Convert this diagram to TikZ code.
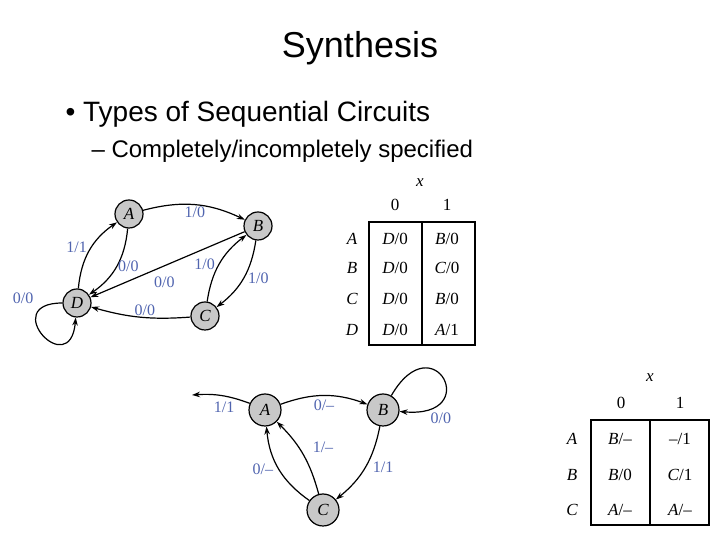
\documentclass[tikz,border=0pt]{standalone}
\usepackage{fontspec}
\setmainfont{Liberation Serif}
\setsansfont{Liberation Sans}
\usepackage{tikz}
\usetikzlibrary{arrows.meta, positioning}
\definecolor{lblue}{RGB}{80,100,175}
\definecolor{stategray}{RGB}{200,200,200}

\begin{document}
\begin{tikzpicture}[
  x=1pt, y=1pt,
  state/.style={circle, draw, line width=1.2pt, fill=stategray, minimum size=28pt, inner sep=0pt, font=\fontsize{17}{17}\selectfont\itshape},
  lbl/.style={text=lblue, font=\fontsize{16}{16}\selectfont, inner sep=1pt},
  cell/.style={font=\fontsize{17}{17}\selectfont},
  rowlbl/.style={font=\fontsize{17}{17}\selectfont\itshape},
  tab/.style={rectangle, draw, line width=1.6pt},
  arrow/.style={-{Stealth[length=8pt, width=5.5pt]}, line width=1.2pt},
]
\useasboundingbox (0,0) rectangle (720,540);

% Title and bullets
\node[font=\sffamily\fontsize{36}{36}\selectfont, anchor=base] (title) at (360,482) {Synthesis};
\node[font=\sffamily\fontsize{28}{28}\selectfont, anchor=base west] (bullet) at (62,418) {• Types of Sequential Circuits};
\node[font=\sffamily\fontsize{24}{24}\selectfont, anchor=base west] (sub) at (88,382) {– Completely/incompletely specified};

% Completely specified machine
\node[state] (A) at (129,326) {A};
\node[state] (B) at (258,314) {B};
\node[state] (C) at (205,224) {C};
\node[state] (D) at (77,237) {D};

\draw[arrow] (A) to[bend left=20] node[lbl, below] {1/0} (B);
\draw[arrow] (D) to[bend left=25] node[lbl, pos=0.55, left=3pt] {1/1} (A);
\draw[arrow] (A) to[bend left=25] node[lbl, right] {0/0} (D);
\draw[arrow] (B) -- node[lbl, pos=0.52, below=9pt] {0/0} (D);
\draw[arrow] (C) to[bend left=22] node[lbl, left=3pt] {1/0} (B);
\draw[arrow] (B) to[bend left=22] node[lbl, right=3pt] {1/0} (C);
\draw[arrow] (C) to[bend left=10] node[lbl, pos=0.45, above] {0/0} (D);
\draw[arrow] (D) to[out=180, in=265, min distance=65pt] node[lbl, pos=0.03, left=22pt, yshift=5pt] {0/0} (D);

% Table 1
\node[tab, minimum width=106pt, minimum height=123pt] (tab1) at (422,256.5) {};
\draw[line width=1.6pt] (tab1.north) -- (tab1.south);
\node[rowlbl] (tx1) at (420,357) {x};
\node[cell] (th10) at (395,335) {0};
\node[cell] (th11) at (447,335) {1};
\node[rowlbl] (tra) at (352,301) {A};
\node[rowlbl] (trb) at (352,272) {B};
\node[rowlbl] (trc) at (352,241) {C};
\node[rowlbl] (trd) at (352,210) {D};
\node[cell] (ta0) at (395,301) {\textit{D}/0};
\node[cell] (ta1) at (447,301) {\textit{B}/0};
\node[cell] (tb0) at (395,272) {\textit{D}/0};
\node[cell] (tb1) at (447,272) {\textit{C}/0};
\node[cell] (tc0) at (395,241) {\textit{D}/0};
\node[cell] (tc1) at (447,241) {\textit{B}/0};
\node[cell] (td0) at (395,210) {\textit{D}/0};
\node[cell] (td1) at (447,210) {\textit{A}/1};

% Incompletely specified machine
\node[state, minimum size=32pt] (A2) at (265,130) {A};
\node[state, minimum size=32pt] (B2) at (383,130) {B};
\node[state, minimum size=32pt] (C2) at (323,30) {C};
\coordinate (out2) at (192,145);

\draw[arrow] (A2) to[bend right=12] node[lbl, pos=0.45, below=4pt] {1/1} (out2);
\draw[arrow] (A2) to[bend left=20] node[lbl, below=3pt] {0/–} (B2);
\draw[arrow] (B2) to[out=60, in=-5, min distance=85pt] node[lbl, pos=0.9, below right, xshift=8pt] {0/0} (B2);
\draw[arrow] (B2) to[bend left=20] node[lbl, right=6pt] {1/1} (C2);
\draw[arrow] (C2) to[bend left=25] node[lbl, left=4pt] {0/–} (A2);
\draw[arrow] (C2) to[bend right=15] node[lbl, above right, xshift=8pt] {1/–} (A2);

% Table 2
\node[tab, minimum width=118pt, minimum height=105pt] (tab2) at (650,67.5) {};
\draw[line width=1.6pt] (tab2.north) -- (tab2.south);
\node[rowlbl] (tx2) at (650,162) {x};
\node[cell] (th20) at (621,137) {0};
\node[cell] (th21) at (680,137) {1};
\node[rowlbl] (sra) at (572,101) {A};
\node[rowlbl] (srb) at (572,65) {B};
\node[rowlbl] (src) at (572,30) {C};
\node[cell] (sa0) at (620,101) {\textit{B}/–};
\node[cell] (sa1) at (680,101) {–/1};
\node[cell] (sb0) at (620,65) {\textit{B}/0};
\node[cell] (sb1) at (680,65) {\textit{C}/1};
\node[cell] (sc0) at (620,30) {\textit{A}/–};
\node[cell] (sc1) at (680,30) {\textit{A}/–};

\end{tikzpicture}
\end{document}
